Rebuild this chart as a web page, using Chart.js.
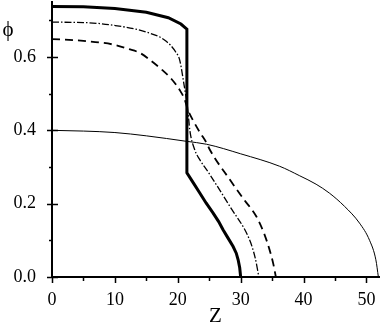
<!DOCTYPE html>
<html><head><meta charset="utf-8">
<script src="https://cdn.jsdelivr.net/npm/chart.js@4"></script>
<style>html,body{margin:0;padding:0;background:#fff}canvas{display:block}</style>
</head><body>
<canvas id="c" width="382" height="327"></canvas>
<script>
// ---- data ----
const thickZ   = [0, 5, 10, 15, 18.5, 20.5, 21.45, 21.45, 22.5, 23.5, 24.5, 25.6, 26.5, 27.2, 28.0, 28.8, 29.3, 29.6, 29.85, 30.0];
const thickPhi = [0.738, 0.737, 0.732, 0.722, 0.707, 0.690, 0.676, 0.284, 0.256, 0.229, 0.202, 0.175, 0.151, 0.129, 0.106, 0.083, 0.065, 0.047, 0.025, 0.0];

const dashDotZ   = [0, 5, 10, 15, 18, 19.7, 20.3, 21.0, 21.6, 21.9, 22.7, 23.5, 25, 28.3, 31.4, 32.3, 32.9];
const dashDotPhi = [0.695, 0.694, 0.686, 0.668, 0.645, 0.613, 0.592, 0.524, 0.456, 0.402, 0.347, 0.320, 0.282, 0.192, 0.102, 0.053, 0.0];

const dashedZ   = [0, 5, 10, 12.1, 14, 15.5, 17.5, 19, 20.3, 21.1, 21.6, 22.5, 23.5, 24.6, 25.1, 28.3, 30.5, 32.5, 33.7, 34.6, 35.2, 35.6];
const dashedPhi = [0.649, 0.644, 0.633, 0.622, 0.611, 0.593, 0.565, 0.54, 0.51, 0.484, 0.456, 0.425, 0.395, 0.365, 0.347, 0.265, 0.212, 0.165, 0.12, 0.074, 0.035, 0.0];

const thinZ   = [0, 5, 10, 15, 21.4, 24.6, 30, 36.2, 39.4, 42, 44.1, 46.5, 48.9, 50.5, 51.5, 51.9];
const thinPhi = [0.400, 0.398, 0.394, 0.385, 0.370, 0.362, 0.336, 0.302, 0.276, 0.253, 0.229, 0.193, 0.147, 0.100, 0.047, 0.0];

const xMajorTicks = [0, 10, 20, 30, 40, 50];
const xMinorTicks = [5, 15, 25, 35, 45];
const yMajorTicks = [0, 0.2, 0.4, 0.6];
const yMinorTicks = [0.1, 0.3, 0.5, 0.7];
const xTitle = 'Z';
const yTitle = '\u03D5';

const pts = (xs, ys) => xs.map((x, i) => ({x: x, y: ys[i]}));
const SERIF = '"Liberation Serif", "DejaVu Serif", serif';

const tickPlugin = {
  id: 'ticksAndTitle',
  afterDraw(chart) {
    const ctx = chart.ctx, xs = chart.scales.x, ys = chart.scales.y;
    const x0 = chart.chartArea.left, y0 = chart.chartArea.bottom;
    ctx.save();
    ctx.strokeStyle = '#000';
    ctx.lineWidth = 1.5;
    ctx.beginPath();
    xMajorTicks.forEach(v => { const p = Math.round(xs.getPixelForValue(v)) + 0.5; ctx.moveTo(p, y0); ctx.lineTo(p, y0 + 6); });
    xMinorTicks.forEach(v => { const p = Math.round(xs.getPixelForValue(v)) + 0.5; ctx.moveTo(p, y0); ctx.lineTo(p, y0 + 4); });
    yMajorTicks.forEach(v => { const p = Math.round(ys.getPixelForValue(v)) + 0.5; ctx.moveTo(x0 - 5, p); ctx.lineTo(x0 + 6, p); });
    yMinorTicks.forEach(v => { const p = Math.round(ys.getPixelForValue(v)) + 0.5; ctx.moveTo(x0 - 3, p); ctx.lineTo(x0, p); });
    ctx.stroke();
    ctx.fillStyle = '#000';
    ctx.font = '21px ' + SERIF;
    ctx.textAlign = 'center';
    ctx.textBaseline = 'middle';
    ctx.fillText(yTitle, 8, 30);
    ctx.restore();
  }
};

new Chart(document.getElementById('c'), {
  type: 'line',
  data: {
    datasets: [
      { data: pts(thickZ, thickPhi), borderColor: '#000', borderWidth: 3, tension: 0, pointRadius: 0 },
      { data: pts(dashDotZ, dashDotPhi), borderColor: '#000', borderWidth: 1.3, borderDash: [7, 2, 1.5, 2], cubicInterpolationMode: 'monotone', pointRadius: 0 },
      { data: pts(dashedZ, dashedPhi), borderColor: '#000', borderWidth: 1.8, borderDash: [8, 5], cubicInterpolationMode: 'monotone', pointRadius: 0 },
      { data: pts(thinZ, thinPhi), borderColor: '#000', borderWidth: 1, cubicInterpolationMode: 'monotone', pointRadius: 0 }
    ]
  },
  options: {
    responsive: false,
    animation: false,
    events: [],
    layout: { padding: { top: 2, right: 3, left: 0, bottom: 0 } },
    plugins: { legend: { display: false }, tooltip: { enabled: false } },
    scales: {
      x: {
        type: 'linear', min: 0, max: 52,
        afterBuildTicks: s => { s.ticks = xMajorTicks.map(v => ({value: v})); },
        afterFit: s => { s.height = 50; s.paddingLeft = 0; s.paddingRight = 0; },
        grid: { display: false },
        border: { display: true, color: '#000', width: 2 },
        ticks: { color: '#000', font: { family: SERIF, size: 18 }, padding: 4, maxRotation: 0, callback: v => String(v) },
        title: { display: true, text: xTitle, color: '#000', font: { family: SERIF, size: 21, lineHeight: 1 }, padding: { top: 0, bottom: 0 } }
      },
      y: {
        type: 'linear', min: 0, max: 0.75,
        afterBuildTicks: s => { s.ticks = yMajorTicks.map(v => ({value: v})); },
        afterFit: s => { s.width = 52; s.paddingTop = 0; s.paddingBottom = 0; },
        grid: { display: false },
        border: { display: true, color: '#000', width: 2 },
        ticks: { color: '#000', font: { family: SERIF, size: 18 }, padding: 8, callback: v => Number(v).toFixed(1) }
      }
    }
  },
  plugins: [tickPlugin]
});
</script>
</body></html>
